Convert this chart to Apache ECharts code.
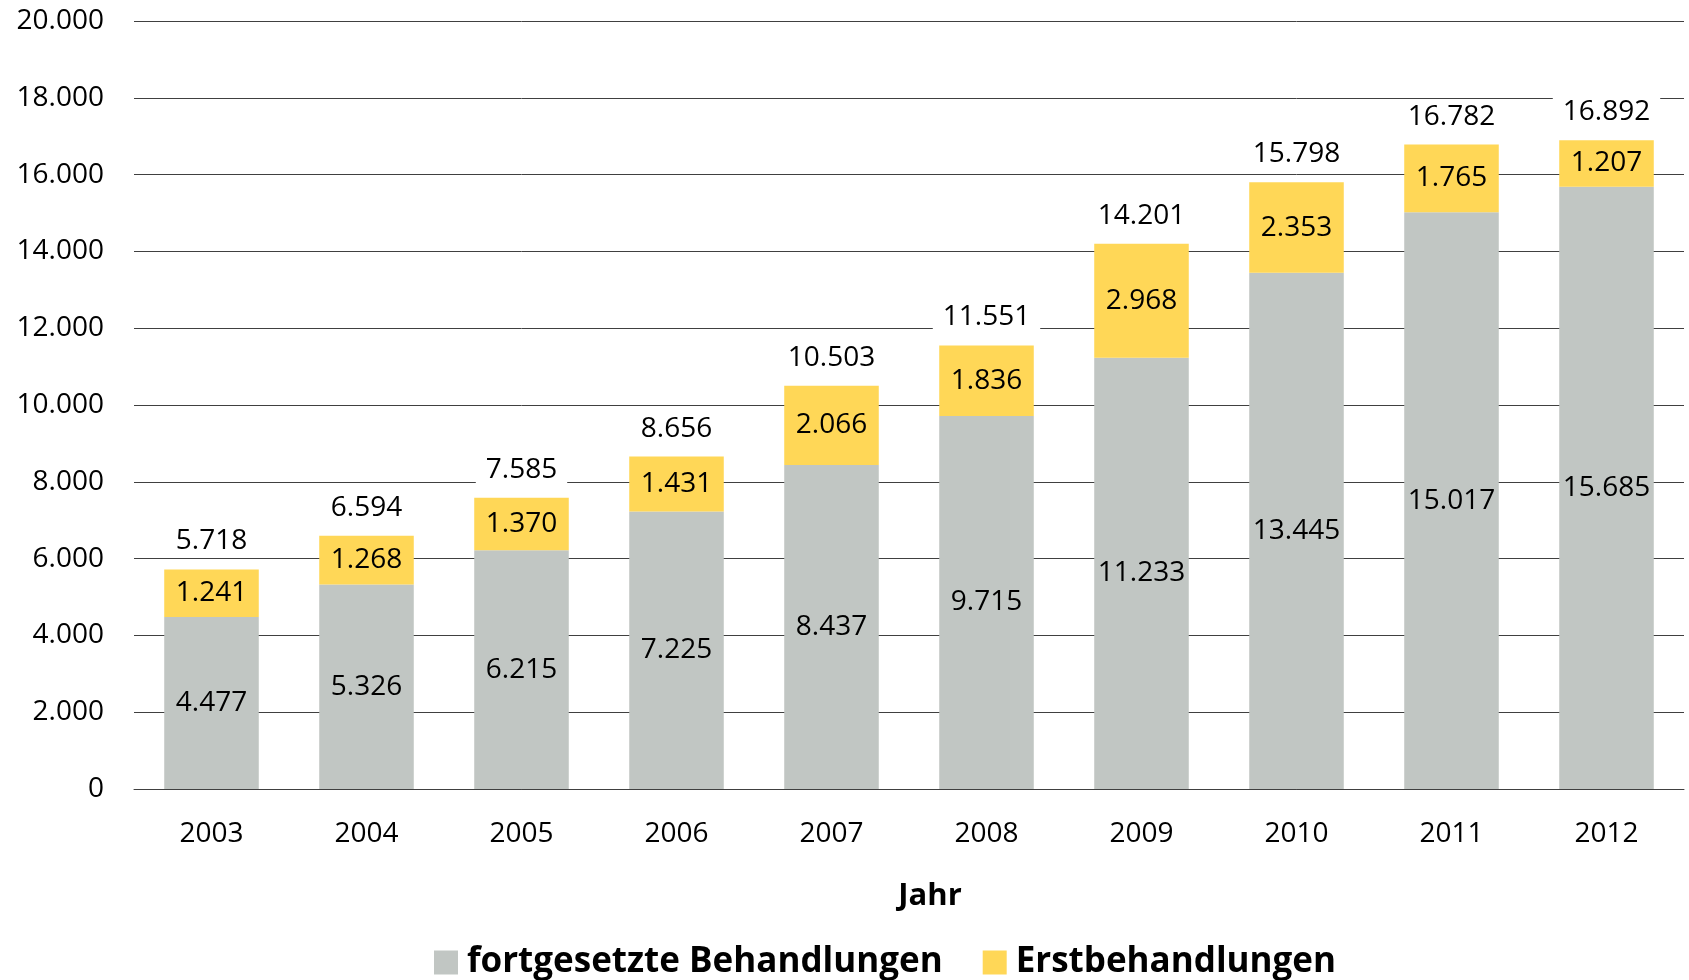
<!DOCTYPE html>
<html>
<head>
<meta charset="utf-8">
<script src="https://cdn.jsdelivr.net/npm/echarts@6/dist/echarts.min.js"></script>
<style>
  html, body { margin: 0; padding: 0; background: #fff; }
  #chart { width: 1689px; height: 980px; }
</style>
</head>
<body>
<div id="chart"></div>
<script>
const jahre = ['2003', '2004', '2005', '2006', '2007', '2008', '2009', '2010', '2011', '2012']
const fortgesetzt = [4477, 5326, 6215, 7225, 8437, 9715, 11233, 13445, 15017, 15685]
const erst = [1241, 1268, 1370, 1431, 2066, 1836, 2968, 2353, 1765, 1207]
const gesamt = [5718, 6594, 7585, 8656, 10503, 11551, 14201, 15798, 16782, 16892]

const FONT = '"Open Sans", "Noto Sans", sans-serif'

// 12345 -> 12.345
function fmt(v) {
    return String(v).replace(/\B(?=(\d{3})+(?!\d))/g, '.')
}

const chart = echarts.init(document.getElementById('chart'))
const option = {
    animation: false,
    textStyle: { fontFamily: FONT },
    grid: { left: 134, right: 5, top: 21, bottom: 191 },
    legend: {
        data: ['fortgesetzte Behandlungen', 'Erstbehandlungen'],
        left: 429,
        top: 940,
        itemWidth: 24,
        itemHeight: 24,
        itemGap: 40,
        icon: 'rect',
        textStyle: { fontSize: 35, fontWeight: 'bold', color: '#000', fontFamily: FONT, padding: [0, 0, 0, 4] }
    },
    xAxis: {
        type: 'category',
        data: jahre,
        name: 'Jahr',
        nameLocation: 'middle',
        nameGap: 92,
        nameTextStyle: { fontSize: 31, fontWeight: 'bold', color: '#000', fontFamily: FONT, padding: [0, 0, 0, 42] },
        axisLine: { lineStyle: { color: '#404040', width: 1 } },
        axisTick: { show: false },
        axisLabel: { fontSize: 28, color: '#000', margin: 31, fontFamily: FONT }
    },
    yAxis: {
        type: 'value',
        min: 0,
        max: 20000,
        interval: 2000,
        axisLine: { show: false },
        axisTick: { show: false },
        splitLine: { lineStyle: { color: '#404040', width: 1 } },
        axisLabel: { fontSize: 28, color: '#000', margin: 30, fontFamily: FONT, formatter: fmt }
    },
    series: [
        {
            name: 'fortgesetzte Behandlungen',
            type: 'bar',
            stack: 'a',
            barWidth: '61%',
            data: fortgesetzt,
            itemStyle: { color: '#c1c6c3' },
            label: {
                show: true, position: 'inside', fontSize: 28, color: '#000', fontFamily: FONT,
                formatter: p => fmt(p.value)
            }
        },
        {
            name: 'Erstbehandlungen',
            type: 'bar',
            stack: 'a',
            data: erst,
            itemStyle: { color: '#ffd757' },
            label: {
                show: true, position: 'inside', fontSize: 28, color: '#000', fontFamily: FONT,
                formatter: p => fmt(p.value)
            }
        },
        {
            name: 'gesamt',
            type: 'line',
            data: gesamt,
            symbol: 'circle',
            symbolSize: 0,
            showSymbol: true,
            lineStyle: { opacity: 0 },
            z: 5,
            label: {
                show: true, position: 'top', distance: 12, fontSize: 28, color: '#000', fontFamily: FONT,
                backgroundColor: '#fff', padding: [2, 10],
                formatter: p => fmt(p.value)
            }
        }
    ]
}
chart.setOption(option)
</script>
</body>
</html>
